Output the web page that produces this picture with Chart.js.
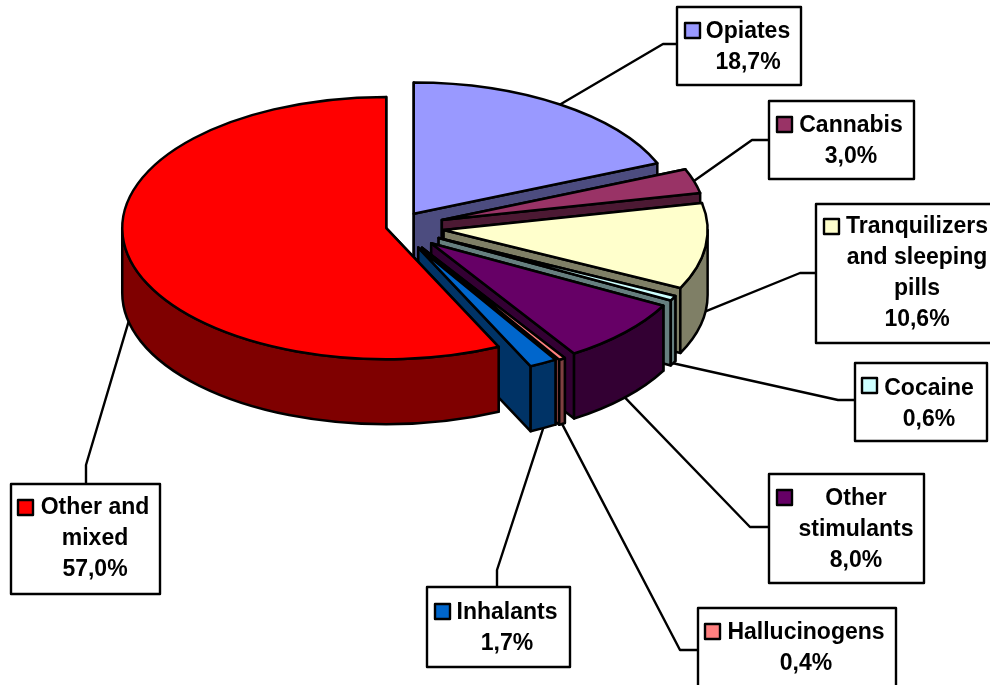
<!DOCTYPE html>
<html>
<head>
<meta charset="utf-8">
<title>Drug use pie</title>
<script src="https://cdn.jsdelivr.net/npm/chart.js@4"></script>
<style>
  html, body { margin: 0; padding: 0; background: #fff; overflow: hidden; }
  canvas { display: block; }
</style>
</head>
<body>
<canvas id="pie" width="990" height="685"></canvas>
<script>
// Data
const categories = ["Opiates", "Cannabis", "Tranquilizers and sleeping pills", "Cocaine", "Other stimulants", "Hallucinogens", "Inhalants", "Other and mixed"];
const shares = [18.7, 3.0, 10.6, 0.6, 8.0, 0.4, 1.7, 57.0];
const labelLines = [["Opiates"], ["Cannabis"], ["Tranquilizers", "and sleeping", "pills"], ["Cocaine"], ["Other", "stimulants"], ["Hallucinogens"], ["Inhalants"], ["Other and", "mixed"]];

// Colours
const topColors = ["#9999FF", "#993366", "#FFFFCC", "#CCFFFF", "#660066", "#FF8080", "#0066CC", "#FF0000"];
const wallColors = ["#4C4C7F", "#4C1933", "#7F7F66", "#667F7F", "#330033", "#7F4040", "#003366", "#7F0000"];

// 3D look
const RADIUS = 264;
const TILT = 0.497;
const DEPTH = 65;
const explode = [32, 48, 48, 48, 48, 49, 47, 10];

// Label boxes: x0,y0,x1,y1 of frame, key corner, text centre, first baseline, elbow of leader
const boxes = [
  { frame: [677, 7, 801, 85],    key: [685, 23],  tx: 748, ty: 38,  elbow: [663, 44] },
  { frame: [769, 101, 914, 179], key: [777, 117], tx: 851, ty: 132, elbow: [752, 140] },
  { frame: [816, 204, 996, 343], key: [824, 219], tx: 917, ty: 233, elbow: [800, 273] },
  { frame: [855, 363, 987, 441], key: [862, 378], tx: 929, ty: 395, elbow: [838, 400] },
  { frame: [769, 474, 924, 583], key: [777, 490], tx: 856, ty: 505, elbow: [750, 527] },
  { frame: [698, 608, 896, 692], key: [705, 624], tx: 806, ty: 639, elbow: [680, 650] },
  { frame: [427, 587, 570, 667], key: [435, 604], tx: 507, ty: 619, elbow: [497, 570] },
  { frame: [11, 484, 160, 594],  key: [18, 500],  tx: 95,  ty: 514, elbow: [86, 465] },
];

function sliceGeom(arc, i) {
  const mid = (arc.startAngle + arc.endAngle) / 2;
  return {
    mid,
    cx: arc.x + explode[i] * Math.cos(mid),
    cy: arc.y + explode[i] * Math.sin(mid) * TILT,
  };
}

function drawWalls(ctx, arc, i) {
  const g = sliceGeom(arc, i);
  const ry = RADIUS * TILT;
  ctx.fillStyle = wallColors[i];

  // cut faces
  for (const a of [arc.startAngle, arc.endAngle]) {
    const rx0 = g.cx + RADIUS * Math.cos(a), ry0 = g.cy + ry * Math.sin(a);
    ctx.beginPath();
    ctx.moveTo(g.cx, g.cy);
    ctx.lineTo(rx0, ry0);
    ctx.lineTo(rx0, ry0 + DEPTH);
    ctx.lineTo(g.cx, g.cy + DEPTH);
    ctx.closePath();
    ctx.fill();
    ctx.stroke();
  }

  // outer wall, only the half facing us
  const from = Math.max(arc.startAngle, 0), to = Math.min(arc.endAngle, Math.PI);
  if (to > from) {
    ctx.beginPath();
    ctx.ellipse(g.cx, g.cy, RADIUS, ry, 0, from, to);
    ctx.ellipse(g.cx, g.cy + DEPTH, RADIUS, ry, 0, to, from, true);
    ctx.closePath();
    ctx.fill();
    ctx.stroke();
  }
}

const pie3d = {
  id: "pie3d",
  beforeDatasetDraw(chart, args) {
    const ctx = chart.ctx;
    const arcs = args.meta.data;
    ctx.save();
    ctx.strokeStyle = "#000";
    ctx.lineWidth = 2.5;
    ctx.lineJoin = "round";

    // walls in slice order, the big red one ends up over the blue cut face
    arcs.forEach((arc, i) => drawWalls(ctx, arc, i));

    // tops: the library's own arcs, squashed and moved out
    arcs.forEach((arc, i) => {
      const g = sliceGeom(arc, i);
      ctx.save();
      ctx.translate(g.cx, g.cy);
      ctx.scale(1, TILT);
      ctx.translate(-arc.x, -arc.y);
      arc.draw(ctx);
      ctx.restore();

      ctx.beginPath();
      ctx.moveTo(g.cx, g.cy);
      ctx.ellipse(g.cx, g.cy, RADIUS, RADIUS * TILT, 0, arc.startAngle, arc.endAngle);
      ctx.closePath();
      ctx.stroke();
    });
    ctx.restore();
    return false; // already drawn
  },
  afterDatasetsDraw(chart) {
    const ctx = chart.ctx;
    const arcs = chart.getDatasetMeta(0).data;
    ctx.save();
    ctx.strokeStyle = "#000";
    ctx.lineWidth = 2.4;
    ctx.lineJoin = "round";
    ctx.font = 'bold 23px "Liberation Sans", Arial, sans-serif';
    ctx.textAlign = "center";
    ctx.textBaseline = "alphabetic";

    boxes.forEach((b, i) => {
      const g = sliceGeom(arcs[i], i);
      const [x0, y0, x1, y1] = b.frame;
      // leader starts at the rim (or under the wall on the front half)
      const ax = g.cx + RADIUS * Math.cos(g.mid);
      const ay = g.cy + RADIUS * TILT * Math.sin(g.mid) + (Math.sin(g.mid) > 0 ? DEPTH : 0);
      const endX = b.elbow[1] > y0 ? x0 : b.elbow[0];
      const endY = b.elbow[1] > y0 ? b.elbow[1] : y0;
      ctx.beginPath();
      ctx.moveTo(ax, ay);
      ctx.lineTo(b.elbow[0], b.elbow[1]);
      ctx.lineTo(endX, endY);
      ctx.stroke();

      ctx.fillStyle = "#fff";
      ctx.fillRect(x0, y0, x1 - x0, y1 - y0);
      ctx.strokeRect(x0, y0, x1 - x0, y1 - y0);

      ctx.fillStyle = topColors[i];
      ctx.fillRect(b.key[0], b.key[1], 15, 15);
      ctx.strokeRect(b.key[0], b.key[1], 15, 15);

      ctx.fillStyle = "#000";
      const lines = [...labelLines[i], shares[i].toFixed(1).replace(".", ",") + "%"];
      lines.forEach((line, n) => ctx.fillText(line, b.tx, b.ty + n * 31));
    });
    ctx.restore();
  },
};

new Chart(document.getElementById("pie"), {
  type: "pie",
  data: {
    labels: categories,
    datasets: [{ data: shares, backgroundColor: topColors, borderWidth: 0, radius: RADIUS }],
  },
  plugins: [pie3d],
  options: {
    responsive: false,
    animation: false,
    events: [],
    layout: { padding: { right: 198, bottom: 231 } },
    plugins: { legend: { display: false }, tooltip: { enabled: false } },
  },
});
</script>
</body>
</html>
